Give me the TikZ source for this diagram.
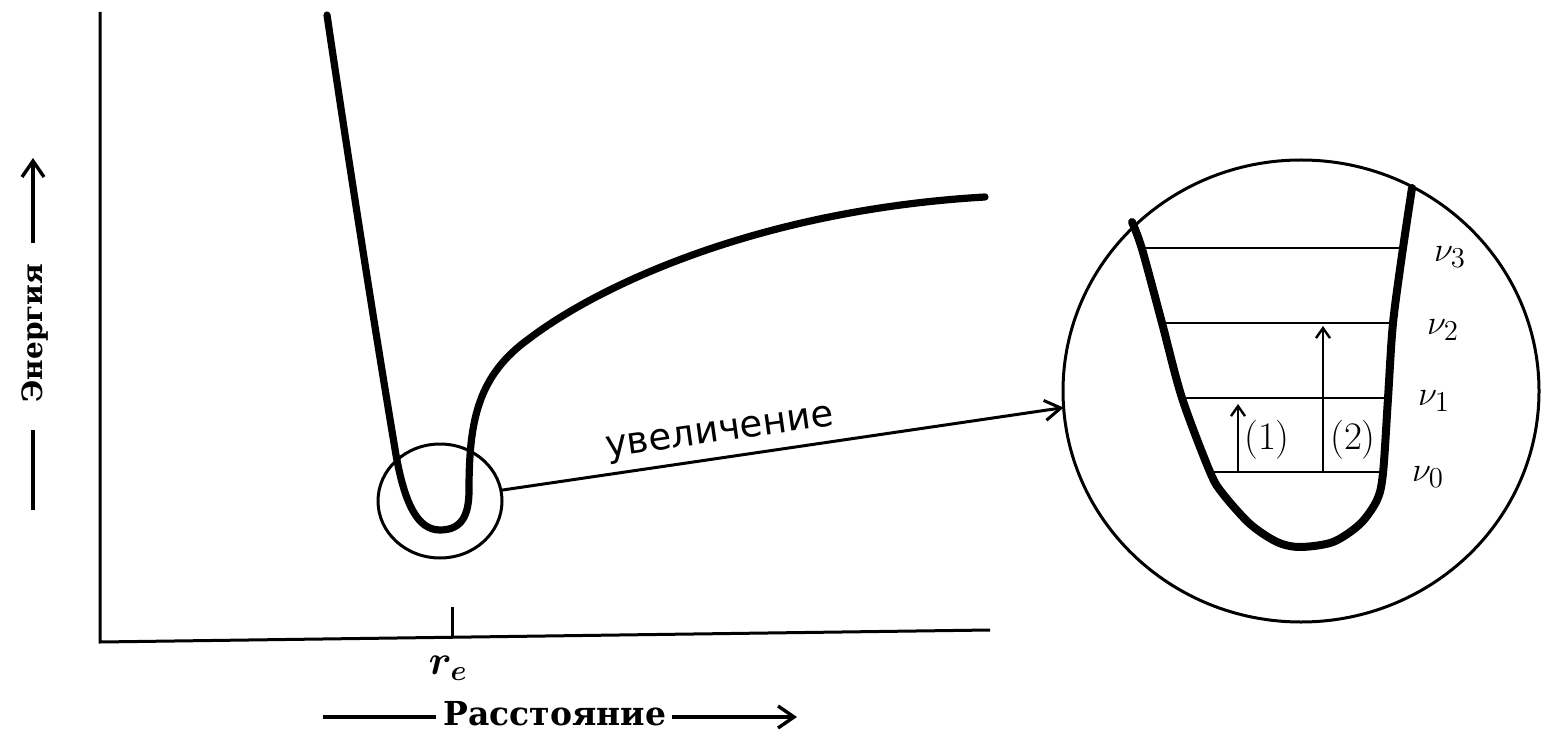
\documentclass[tikz,border=0pt]{standalone}
\usepackage{fontspec}
\newfontfamily\cyrserif{DejaVu Serif}
\newfontfamily\cyrsans{DejaVu Sans}
\usetikzlibrary{arrows.meta,shapes.geometric}
\begin{document}
\begin{tikzpicture}[x=0.5pt,y=-0.5pt,
  pot/.style={line width=3.6pt, line join=round, line cap=round},
  potm/.style={line width=4pt, line join=round, line cap=round},
  axis/.style={line width=1.5pt},
  ring/.style={ellipse, draw, line width=1.5pt, inner sep=0pt, outer sep=0pt},
  level/.style={line width=1.4pt},
  labline/.style={line width=1.7pt},
  bigtip/.style={-{Straight Barb[length=8pt,width=11pt,line width=1.7pt]}},
  conn/.style={line width=1.5pt, -{Straight Barb[length=8pt,width=10pt,line width=1.5pt]}},
  uparrow/.style={line width=1.2pt, -{Straight Barb[length=5pt,width=7pt,line width=1.2pt]}},
  lbl/.style={inner sep=0pt},
]
\useasboundingbox (0,0) rectangle (1545,737);

% axes
\coordinate (ytop) at (100,12);
\coordinate (O) at (100,642);
\coordinate (xend) at (990,630);
\draw[axis, line join=miter] (ytop) -- (O) -- (xend);
\coordinate (tickb) at (452,637);
\coordinate (tickt) at (452,607);
\draw[axis] (tickb) -- (tickt);
\node[lbl, font=\boldmath\fontsize{21}{24}\selectfont] (re) at (448,668) {$r_e$};

% x label
\node[lbl, font=\cyrserif\bfseries\fontsize{16.5}{20}\selectfont] (xlab) at (555,714) {Расстояние};
\coordinate (xl1) at (323,717);
\coordinate (xl2) at (436,717);
\coordinate (xl3) at (672,717);
\coordinate (xl4) at (797,717);
\draw[labline] (xl1) -- (xl2);
\draw[labline, bigtip] (xl3) -- (xl4);

% y label
\node[lbl, rotate=90, font=\cyrserif\bfseries\fontsize{14}{18}\selectfont] (ylab) at (35,333) {Энергия};
\coordinate (yl1) at (33,510);
\coordinate (yl2) at (33,430);
\coordinate (yl3) at (33,243);
\coordinate (yl4) at (33,158);
\draw[labline] (yl1) -- (yl2);
\draw[labline, bigtip] (yl3) -- (yl4);

% potential curve
\draw[pot] (327,15) .. controls (350,170) and (375,330) .. (396,455)
  .. controls (405,505) and (418,530) .. (440,530)
  .. controls (462,530) and (469,515) .. (469,490)
  .. controls (469,420) and (478,375) .. (530,338)
  .. controls (600,285) and (760,210) .. (985,197);

% zoom circle and magnified circle
\node[ring, minimum width=62pt, minimum height=57pt] (zoom) at (440,501) {};
\node[ring, minimum width=238pt, minimum height=231pt] (mag) at (1301,391) {};
\draw[conn] (zoom.10) -- (mag.184);
\node[lbl, rotate=8, font=\cyrsans\fontsize{18.5}{22}\selectfont] (uv) at (720,435) {увеличение};

% magnified well
\draw[potm] plot[smooth, tension=0.5] coordinates {(1132,222) (1142,249) (1162,323) (1182,398) (1210,472) (1223,494) (1250,524) (1277,542) (1300,547) (1333,542) (1360,524) (1377,500) (1383,473) (1388,398) (1393,323) (1403,248) (1412,188)};

% levels
\coordinate (L3) at (1142,248); \coordinate (R3) at (1403,248);
\coordinate (L2) at (1162,323); \coordinate (R2) at (1393,323);
\coordinate (L1) at (1182,398); \coordinate (R1) at (1388,398);
\coordinate (L0) at (1210,472); \coordinate (R0) at (1383,472);
\draw[level] (L3) -- (R3);
\draw[level] (L2) -- (R2);
\draw[level] (L1) -- (R1);
\draw[level] (L0) -- (R0);

% transitions
\coordinate (a1s) at (1238,472); \coordinate (a1e) at (1238,404);
\coordinate (a2s) at (1323,472); \coordinate (a2e) at (1323,326);
\draw[uparrow] (a1s) -- (a1e);
\draw[uparrow] (a2s) -- (a2e);
\node[lbl, font=\fontsize{19.5}{22}\selectfont] (t1) at (1267,440) {(1)};
\node[lbl, font=\fontsize{19.5}{22}\selectfont] (t2) at (1353,440) {(2)};

% level labels
\node[lbl, font=\fontsize{19}{22}\selectfont] (n3) at (1450,257) {$\nu_3$};
\node[lbl, font=\fontsize{19}{22}\selectfont] (n2) at (1443,330) {$\nu_2$};
\node[lbl, font=\fontsize{19}{22}\selectfont] (n1) at (1434,401) {$\nu_1$};
\node[lbl, font=\fontsize{19}{22}\selectfont] (n0) at (1428,477) {$\nu_0$};
\end{tikzpicture}
\end{document}
